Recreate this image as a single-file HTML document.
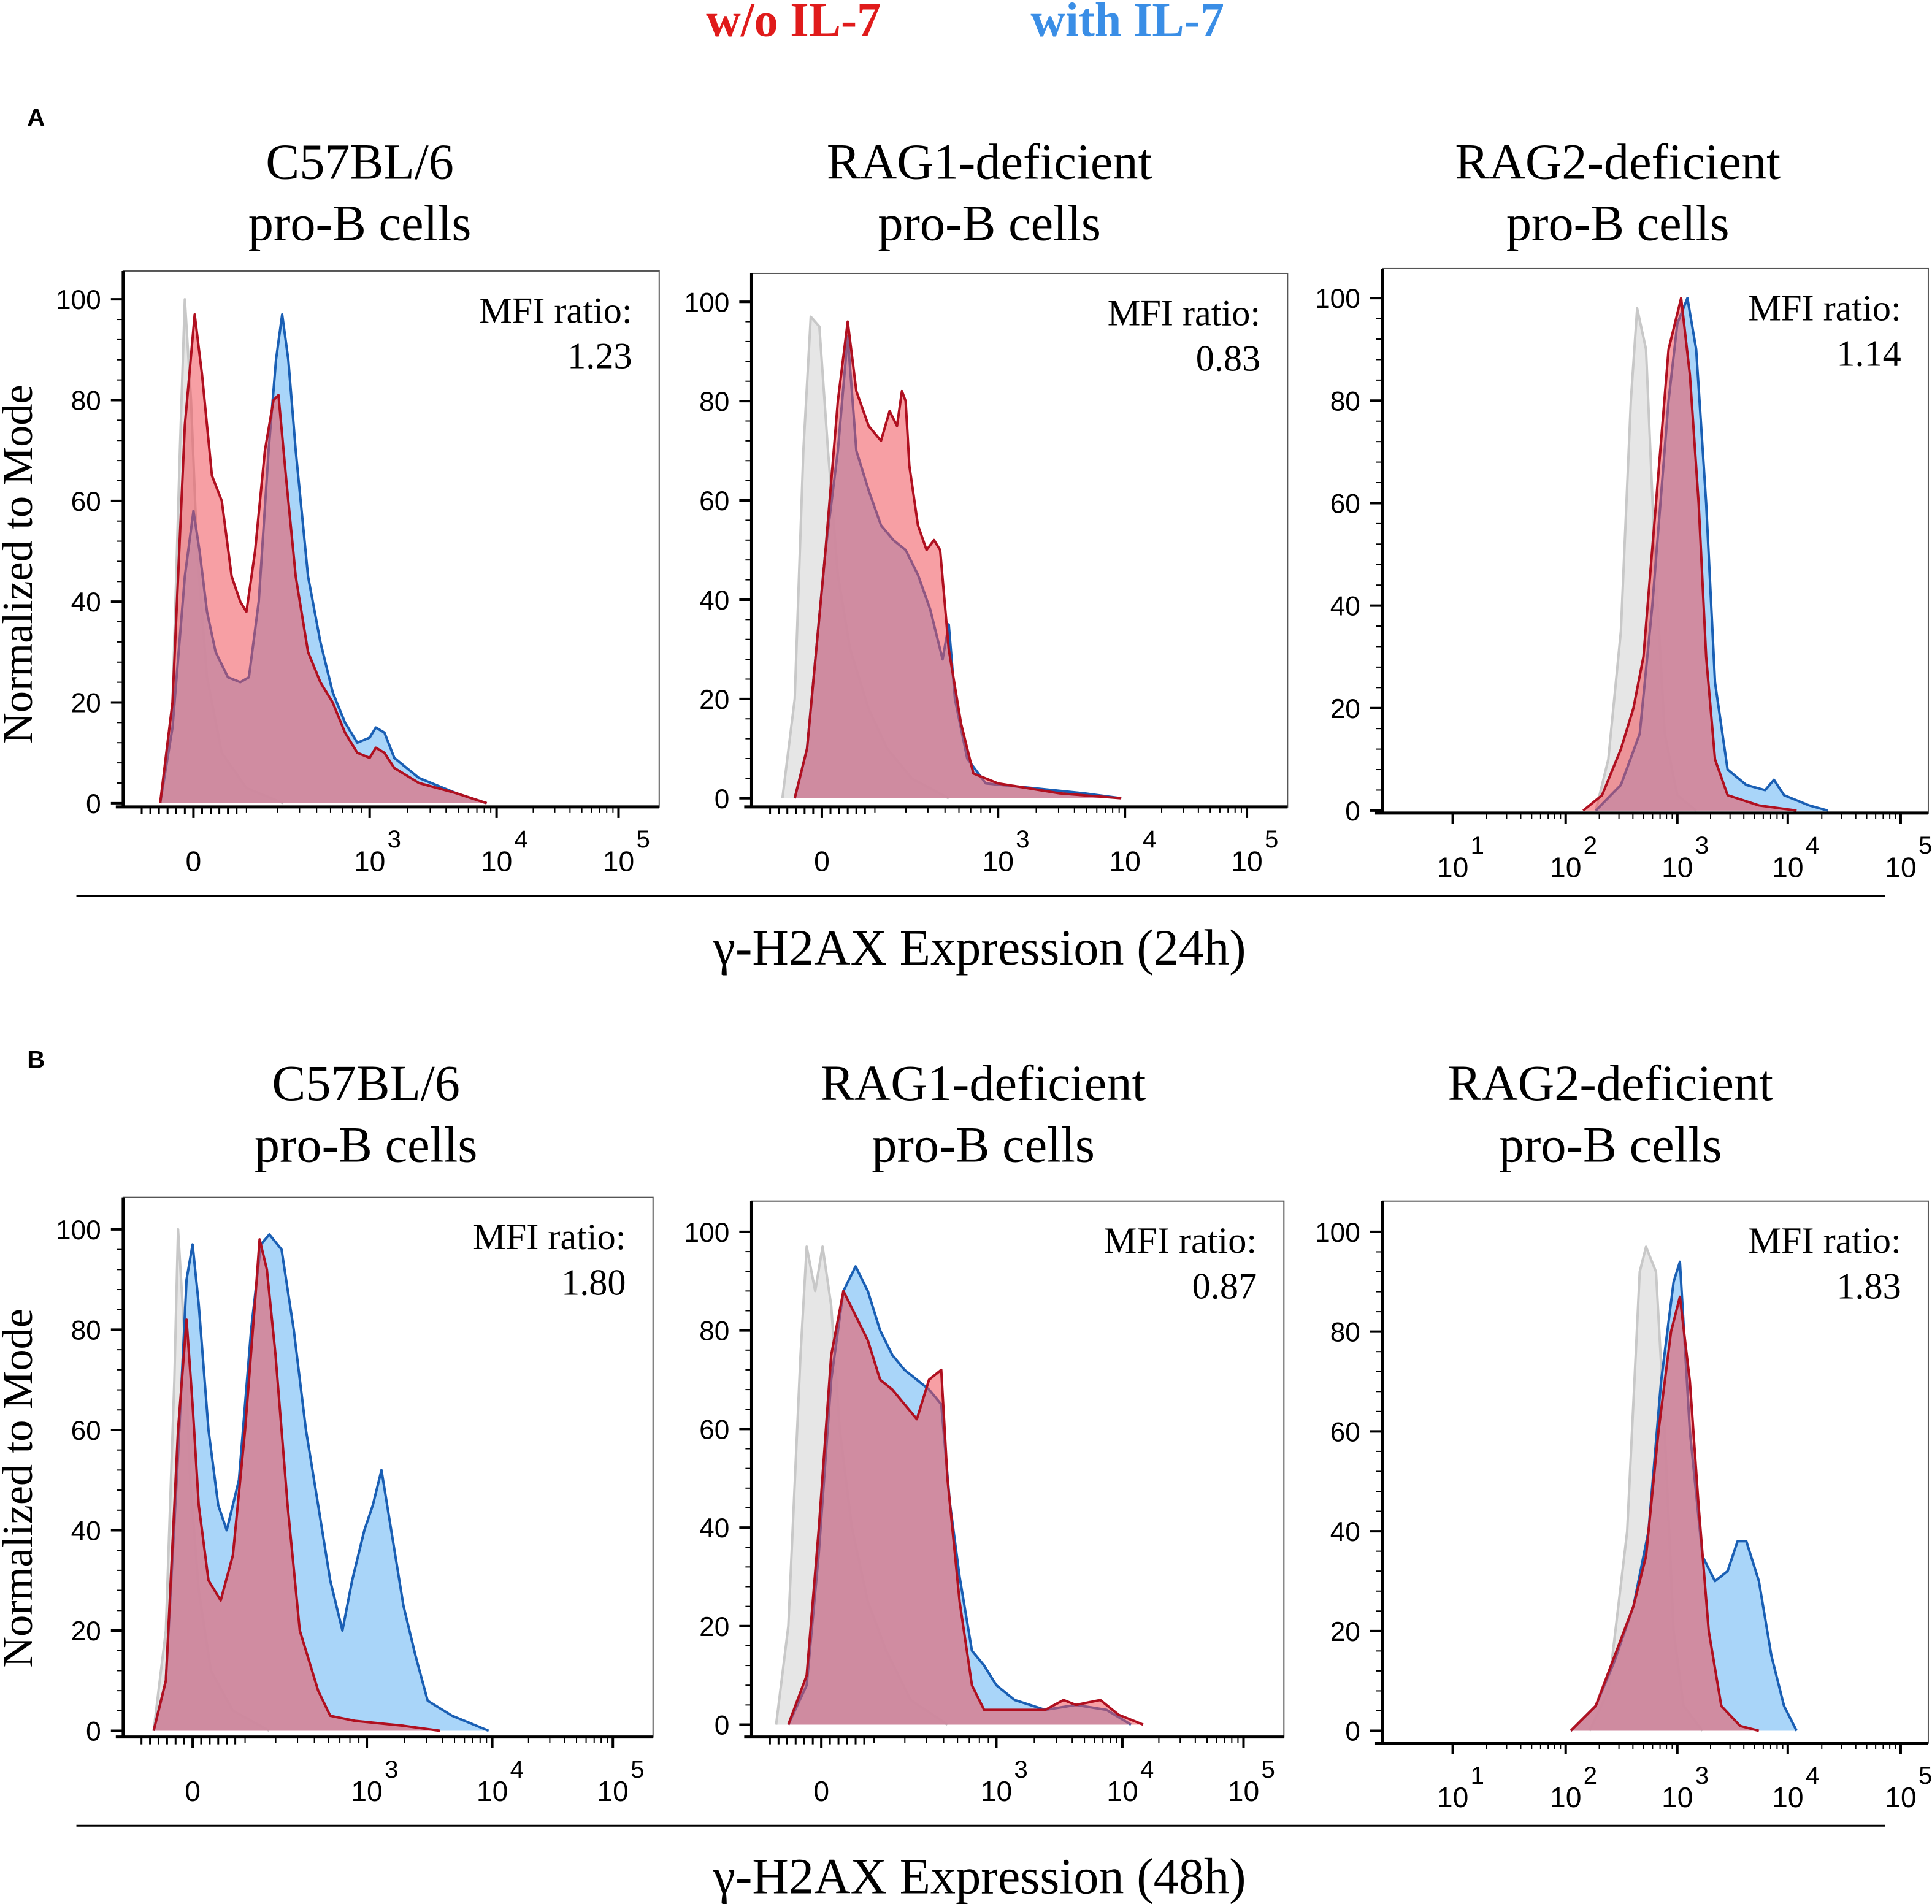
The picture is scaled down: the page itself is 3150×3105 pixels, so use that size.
<!DOCTYPE html>
<html><head><meta charset="utf-8"><style>
html,body{margin:0;padding:0;background:#fff}
svg{display:block}
</style></head><body>
<svg id="fig" xmlns="http://www.w3.org/2000/svg" width="3150" height="3105" viewBox="0 0 1568 1545.6" preserveAspectRatio="none">
<text x="644" y="29" font-family="Liberation Serif, serif" font-weight="bold" font-size="39" fill="#e01b1b" text-anchor="middle">w/o IL-7</text>
<text x="915" y="29" font-family="Liberation Serif, serif" font-weight="bold" font-size="39" fill="#3a8ee6" text-anchor="middle">with IL-7</text>
<text x="22" y="102" font-family="Liberation Sans, sans-serif" font-weight="bold" font-size="20">A</text>
<text x="22" y="867" font-family="Liberation Sans, sans-serif" font-weight="bold" font-size="20">B</text>
<line x1="62" y1="727" x2="1530" y2="727" stroke="#000" stroke-width="1.5"/>
<text x="795" y="783" font-family="Liberation Serif, serif" font-size="41" text-anchor="middle">γ-H2AX Expression (24h)</text>
<line x1="62" y1="1482" x2="1530" y2="1482" stroke="#000" stroke-width="1.5"/>
<text x="795" y="1537" font-family="Liberation Serif, serif" font-size="41" text-anchor="middle">γ-H2AX Expression (48h)</text>
<text transform="translate(26,458) rotate(-90)" font-family="Liberation Serif, serif" font-size="35" text-anchor="middle">Normalized to Mode</text>
<text transform="translate(26,1208) rotate(-90)" font-family="Liberation Serif, serif" font-size="35" text-anchor="middle">Normalized to Mode</text>
</svg>
<script>
// ---- data (x in channel units 0..435 across each panel, y in % of mode) ----
const panelTitles=[["C57BL/6","pro-B cells"],["RAG1-deficient","pro-B cells"],["RAG2-deficient","pro-B cells"],["C57BL/6","pro-B cells"],["RAG1-deficient","pro-B cells"],["RAG2-deficient","pro-B cells"]];
const mfiRatios=["1.23","0.83","1.14","1.80","0.87","1.83"];
const yTicks=[0,20,40,60,80,100];
const xTicksBiexp=[["0",""],["10","3"],["10","4"],["10","5"]];
const xTicksLog=[["10","1"],["10","2"],["10","3"],["10","4"],["10","5"]];
const greyA1=[[30,0],[40,20],[46,70],[50,100],[55,80],[60,50],[68,25],[80,10],[100,3],[130,0]];
const redA1=[[30,0],[40,20],[50,75],[58,97],[64,85],[72,65],[80,60],[88,45],[95,40],[100,38],[107,50],[115,70],[122,80],[126,81],[132,65],[140,45],[150,30],[160,24],[170,20],[180,14],[190,10],[200,9],[205,11],[212,10],[220,7],[240,4],[270,2],[295,0]];
const blueA1=[[30,0],[40,15],[50,45],[57,58],[62,50],[68,38],[75,30],[85,25],[95,24],[102,25],[110,40],[118,70],[124,88],[129,97],[134,88],[140,70],[150,45],[160,32],[170,22],[180,16],[190,12],[200,13],[205,15],[212,14],[220,9],[240,5],[270,2],[295,0]];
const greyA2=[[25,0],[35,20],[42,70],[48,97],[55,95],[62,70],[70,45],[80,30],[95,18],[110,10],[130,4],[160,0]];
const redA2=[[35,0],[45,10],[60,50],[70,80],[78,96],[85,82],[95,75],[105,72],[112,78],[118,75],[122,82],[125,80],[128,67],[135,55],[142,50],[148,52],[153,50],[160,30],[170,15],[180,5],[200,3],[250,1],[300,0]];
const blueA2=[[35,0],[45,10],[60,50],[70,70],[78,93],[85,70],[95,62],[105,55],[115,52],[125,50],[135,45],[145,38],[155,28],[160,35],[165,20],[175,8],[190,3],[230,2],[270,1],[300,0]];
const greyA3=[[170,0],[180,10],[190,35],[198,80],[203,98],[210,90],[217,50],[225,15],[235,3],[250,0]];
const redA3=[[160,0],[175,3],[190,12],[200,20],[208,30],[218,60],[228,90],[238,100],[245,85],[252,60],[258,30],[265,10],[275,3],[300,1],[330,0]];
const blueA3=[[170,0],[190,5],[205,15],[215,40],[228,80],[235,95],[243,100],[250,90],[258,60],[265,25],[275,8],[290,5],[305,4],[312,6],[320,3],[340,1],[355,0]];
const greyB1=[[25,0],[35,20],[42,70],[45,100],[50,80],[55,50],[62,28],[72,12],[90,4],[120,0]];
const redB1=[[25,0],[35,10],[45,60],[52,82],[57,65],[62,45],[70,30],[80,26],[90,35],[100,60],[108,85],[112,98],[118,92],[125,75],[135,45],[145,20],[160,8],[170,3],[190,2],[230,1],[260,0]];
const blueB1=[[25,0],[35,10],[45,55],[52,90],[57,97],[62,85],[70,60],[78,45],[85,40],[95,50],[105,80],[113,97],[120,99],[130,96],[140,80],[150,60],[160,45],[170,30],[180,20],[188,30],[198,40],[205,45],[212,52],[220,40],[230,25],[240,15],[250,6],[270,3],[290,1],[300,0]];
const greyB2=[[20,0],[30,20],[40,75],[45,97],[52,88],[58,97],[65,85],[72,60],[82,40],[95,25],[110,15],[130,5],[160,0]];
const redB2=[[30,0],[45,10],[55,40],[65,75],[75,88],[85,83],[95,78],[105,70],[115,68],[125,65],[135,62],[145,70],[155,72],[160,50],[170,25],[180,8],[190,3],[210,3],[240,3],[255,5],[265,4],[285,5],[300,2],[320,0]];
const blueB2=[[30,0],[45,8],[55,35],[65,70],[75,88],[85,93],[95,88],[105,80],[115,75],[125,72],[135,70],[145,68],[155,65],[162,45],[170,30],[180,15],[190,12],[200,8],[215,5],[240,3],[265,4],[290,3],[310,0]];
const greyB3=[[165,0],[180,8],[195,40],[205,92],[210,97],[218,92],[225,60],[232,20],[240,5],[255,0]];
const redB3=[[150,0],[170,5],[185,15],[200,25],[210,35],[220,60],[230,80],[237,87],[245,70],[252,45],[260,20],[270,5],[285,1],[300,0]];
const blueB3=[[150,0],[170,5],[185,14],[200,25],[212,40],[222,70],[232,90],[237,94],[245,60],[255,35],[265,30],[275,32],[283,38],[290,38],[300,30],[310,15],[320,5],[330,0]];

const greySeries=[greyA1,greyA2,greyA3,greyB1,greyB2,greyB3];
const redSeries=[redA1,redA2,redA3,redB1,redB2,redB3];
const blueSeries=[blueA1,blueA2,blueA3,blueB1,blueB2,blueB3];

// layout
const panels=[
 {L:100,T:220,R:535,B:655,y0:652,y100:243,log:false,tx:292,ty:132},
 {L:610,T:222,R:1045,B:655,y0:648,y100:245,log:false,tx:803,ty:132},
 {L:1122,T:218,R:1565,B:660,y0:658,y100:242,log:true,tx:1313,ty:132},
 {L:100,T:972,R:530,B:1410,y0:1405,y100:998,log:false,tx:297,ty:880},
 {L:610,T:975,R:1042,B:1410,y0:1400,y100:1000,log:false,tx:798,ty:880},
 {L:1122,T:975,R:1565,B:1415,y0:1405,y100:1000,log:true,tx:1307,ty:880}];
const biexpPos=[57,200,303,402], logPos=[56,146,235,323,413];
const NS="http://www.w3.org/2000/svg";
const svg=document.getElementById('fig');
function mk(tag,attrs,parent){const e=document.createElementNS(NS,tag);for(const k in attrs)e.setAttribute(k,attrs[k]);(parent||svg).appendChild(e);return e;}

panels.forEach((p,i)=>{
 const g=mk('g',{});
 
 
 const xs=v=>p.L+v*(p.R-p.L)/435;
 const ys=v=>p.y0-(p.y0-p.y100)*v/100;
 panelTitles[i].forEach((t,j)=>{
  const tt=mk('text',{x:p.tx,y:p.ty+j*50+13,'font-family':'Liberation Serif, serif','font-size':41,'text-anchor':'middle'},g);
  
  
  tt.textContent=t;
 });
 const box=mk('rect',{x:p.L,y:p.T,width:p.R-p.L,height:p.B-p.T,fill:'#fff',stroke:'#555','stroke-width':1},g);
 
 
 function area(data,fill,stroke,name){
  let d='M'+xs(data[0][0])+','+ys(0);
  data.forEach(pt=>{d+=' L'+xs(pt[0]).toFixed(1)+','+ys(pt[1]).toFixed(1);});
  d+=' L'+xs(data[data.length-1][0])+','+ys(0)+' Z';
  const a=mk('path',{d:d,fill:fill,stroke:'none'},g);
  
  
  let l='';data.forEach((pt,k)=>{l+=(k?' L':'M')+xs(pt[0]).toFixed(1)+','+ys(pt[1]).toFixed(1);});
  const ln=mk('path',{d:l,fill:'none',stroke:stroke,'stroke-width':2,'stroke-linejoin':'round'},g);
  
  
 }
 area(greySeries[i],'#e6e6e6','#c8c8c8','isotype-control');
 area(blueSeries[i],'rgba(160,208,248,0.9)','#1a5fb4','with-il7');
 area(redSeries[i],'rgba(240,80,90,0.55)','#b01020','without-il7');
 mk('line',{x1:p.L,y1:p.T,x2:p.L,y2:p.B,stroke:'#000','stroke-width':2.5},g);
 mk('line',{x1:p.L-6,y1:p.B,x2:p.R,y2:p.B,stroke:'#000','stroke-width':2.5},g);
 yTicks.forEach(v=>{
  mk('line',{x1:p.L-10,y1:ys(v),x2:p.L,y2:ys(v),stroke:'#000','stroke-width':2},g);
  const t=mk('text',{x:p.L-18,y:ys(v)+8,'font-family':'Liberation Sans, sans-serif','font-size':22,'text-anchor':'end'},g);
  
  
  t.textContent=v;
 });
 for(let v=4;v<100;v+=4){if(v%20)mk('line',{x1:p.L-5,y1:ys(v),x2:p.L,y2:ys(v),stroke:'#000','stroke-width':1},g);}
 const pos=p.log?logPos:biexpPos, labs=p.log?xTicksLog:xTicksBiexp;
 pos.forEach((px,k)=>{
  const x=p.L+px*(p.R-p.L)/435;
  mk('line',{x1:x,y1:p.B,x2:x,y2:p.B+9,stroke:'#000','stroke-width':2},g);
  if(k<pos.length-1){
   const nx=p.L+pos[k+1]*(p.R-p.L)/435;
   for(let m=2;m<10;m++){const mx=x+(nx-x)*Math.log10(m);mk('line',{x1:mx,y1:p.B,x2:mx,y2:p.B+5,stroke:'#000','stroke-width':1},g);}
  }
  const t=mk('text',{x:x,y:p.B+52,'font-family':'Liberation Sans, sans-serif','font-size':23,'text-anchor':'middle'},g);
  
  
  t.textContent=labs[k][0];
  if(labs[k][1]){
   const s=mk('text',{x:x+20,y:p.B+33,'font-family':'Liberation Sans, sans-serif','font-size':20,'text-anchor':'middle'},g);
   
   
   s.textContent=labs[k][1];
  }
 });
 if(!p.log){for(let k=0;k<12;k++){const x=p.L+(15+k*7)*(p.R-p.L)/435;mk('line',{x1:x,y1:p.B,x2:x,y2:p.B+6,stroke:'#000','stroke-width':1.5},g);}}
 const m1=mk('text',{x:p.R-22,y:p.T+42,'font-family':'Liberation Serif, serif','font-size':30,'text-anchor':'end'},g);
 
 
 m1.textContent='MFI ratio:';
 const m2=mk('text',{x:p.R-22,y:p.T+79,'font-family':'Liberation Serif, serif','font-size':30,'text-anchor':'end'},g);
 
 
 m2.textContent=mfiRatios[i];
});
</script>
</body></html>
